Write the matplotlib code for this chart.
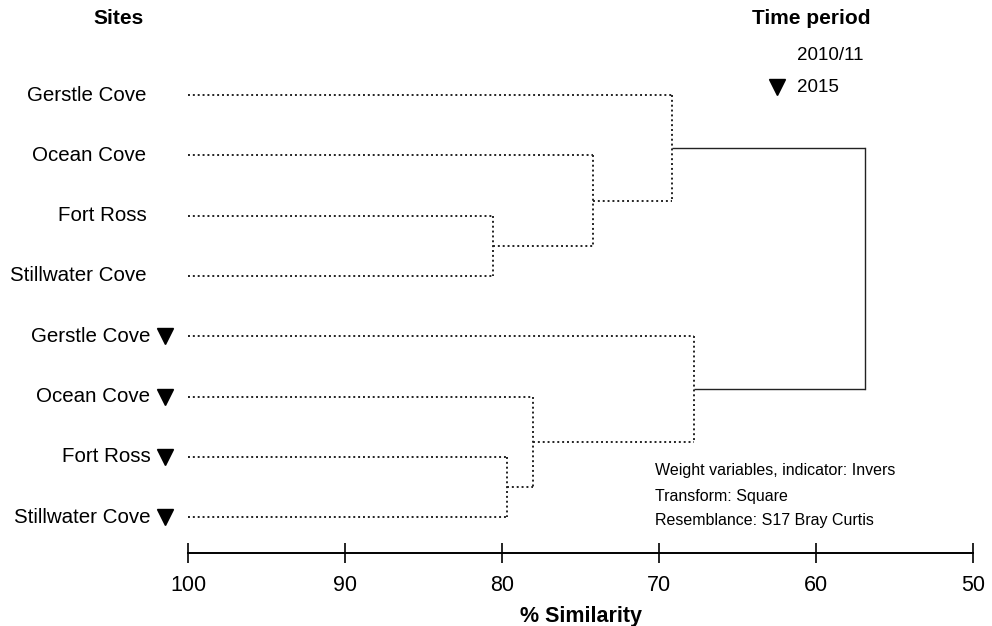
import matplotlib
matplotlib.use("Agg")
import matplotlib.pyplot as plt

plt.rcParams["font.family"] = ["Liberation Sans", "DejaVu Sans"]

# leaves, top to bottom
sites = ["Gerstle Cove", "Ocean Cove", "Fort Ross", "Stillwater Cove",
         "Gerstle Cove", "Ocean Cove", "Fort Ross", "Stillwater Cove"]
periods = ["2010/11", "2010/11", "2010/11", "2010/11",
           "2015", "2015", "2015", "2015"]

# merges: (child a, child b, % similarity); new nodes numbered from 8
merge_a = [2, 1, 0, 6, 5, 4, 10]
merge_b = [3, 8, 9, 7, 11, 12, 13]
merge_sim = [80.6, 74.2, 69.2, 79.7, 78.0, 67.8, 56.9]

xticks = [100, 90, 80, 70, 60, 50]
notes = ["Weight variables, indicator: Invers",
         "Transform: Square",
         "Resemblance: S17 Bray Curtis"]

W, H = 992, 626
fig = plt.figure(figsize=(W / 100, H / 100), dpi=100)


def fx(px):
    return px / W


def fy(py):
    return 1 - py / H


ax = fig.add_axes([fx(188), fy(553), fx(973) - fx(188), fy(80) - fy(553)])
ax.set_xlim(100, 50)
ax.set_ylim(7.595, -0.249)

# node positions
node_x = [100.0] * len(sites)
node_y = list(range(len(sites)))
dot = (0, (1, 1.5))
for k, (a, b, s) in enumerate(zip(merge_a, merge_b, merge_sim)):
    last = k == len(merge_sim) - 1
    ls = "-" if last else dot
    col = "#222222"
    lw = 1.0 if last else 1.4
    for c in (a, b):
        ax.plot([node_x[c], s], [node_y[c], node_y[c]], ls=ls, color=col, lw=lw,
                solid_capstyle="butt")
    ax.plot([s, s], [node_y[a], node_y[b]], ls=ls, color=col, lw=lw)
    node_x.append(s)
    node_y.append((node_y[a] + node_y[b]) / 2)

# leaf labels and period markers
for i, (name, per) in enumerate(zip(sites, periods)):
    if per == "2015":
        ax.text(102.4, i, name, ha="right", va="center", fontsize=14.8, clip_on=False)
        ax.plot([101.45], [i], marker="v", color="black", ms=11, clip_on=False)
    else:
        ax.text(102.65, i, name, ha="right", va="center", fontsize=14.8, clip_on=False)

for sp in ["top", "right", "left"]:
    ax.spines[sp].set_visible(False)
ax.spines["bottom"].set_linewidth(1.4)
ax.set_yticks([])
ax.set_xticks(xticks)
ax.set_xticklabels([str(t) for t in xticks], fontsize=15.5)
ax.tick_params(axis="x", direction="inout", length=14, width=1.2, pad=9)
ax.set_xlabel("% Similarity", fontsize=15.5, fontweight="bold", labelpad=7)

# headers and legend
fig.text(fx(119), fy(18), "Sites", ha="center", va="center", fontsize=15, fontweight="bold")
fig.text(fx(811), fy(18), "Time period", ha="center", va="center", fontsize=15, fontweight="bold")
fig.text(fx(797), fy(55), "2010/11", ha="left", va="center", fontsize=13.5)
fig.text(fx(797), fy(87), "2015", ha="left", va="center", fontsize=13.5)
fig.lines.append(plt.Line2D([fx(777)], [fy(87)], marker="v", color="black", ms=11,
                            transform=fig.transFigure))

for j, t in enumerate(notes):
    fig.text(fx(655), fy(471 + 25 * j), t, ha="left", va="center", fontsize=11.5)

fig.savefig("out.png", dpi=100, facecolor="white")
